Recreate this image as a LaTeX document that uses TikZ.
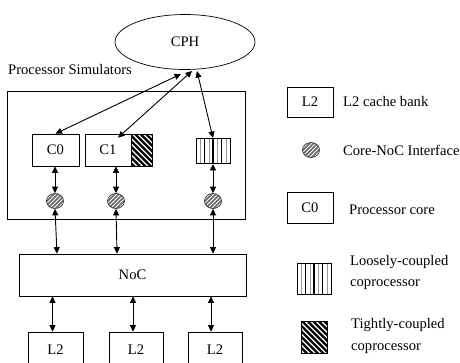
\documentclass[tikz,border=0pt]{standalone}
\usepackage{fontspec}
\setmainfont{Liberation Serif}
\usetikzlibrary{arrows.meta,shapes.geometric,calc}
\begin{document}
\begin{tikzpicture}[x=1pt,y=-1pt,
  font=\fontsize{14.6}{17}\selectfont,
  box/.style={draw,line width=0.7pt,inner sep=0pt},
  dbl/.style={{Triangle[length=6.5pt,width=6pt]}-{Triangle[length=6.5pt,width=6pt]},line width=0.9pt},
  lbl/.style={anchor=west,inner sep=0pt,align=left},
  iface/.style={ellipse,draw=black!80,line width=0.7pt,minimum width=17pt,minimum height=15pt,inner sep=0pt,
    path picture={\foreach \k in {-24,-20,...,24}{\draw[black!60,line width=1.7pt] ($(path picture bounding box.center)+(\k-12,12)$) -- ++(24,-24);}}},
  tight/.style={box,fill=white,
    path picture={\foreach \k in {-40,-34.5,...,40}{\draw[black,line width=2.2pt] ($(path picture bounding box.center)+(\k-20,-20)$) -- ++(40,40);}}},
  loose/.style={box,line width=0.9pt,fill=white,
    path picture={\foreach \k in {0,8.5,17,25.5}{\draw[black,line width=1.2pt] ($(path picture bounding box.west)+(\k,-20)$) -- ++(0,40);
      \draw[black!40,line width=0.8pt] ($(path picture bounding box.west)+(\k+4.5,-20)$) -- ++(0,40);}}}
]
\useasboundingbox (0,0) rectangle (460,362);
\clip (0,0) rectangle (460,362);
\fill[white] (0,0) rectangle (460,362);

% CPH
\node[ellipse,draw,line width=0.7pt,minimum width=140pt,minimum height=55pt,inner sep=0pt] (cph) at (185,42) {CPH};
\node[lbl] (ps) at (8,70) {Processor Simulators};

% simulator box
\node[box,minimum width=238pt,minimum height=128pt] (sim) at (126,155) {};

% cores
\node[box,minimum width=47pt,minimum height=32pt] (c0) at (55.5,150) {C0};
\node[box,minimum width=46pt,minimum height=32pt] (c1) at (108,150) {C1};
\node[tight,minimum width=21pt,minimum height=32pt] (tc) at (141.5,150) {};
\node[loose,minimum width=34pt,minimum height=25pt] (lc) at (213,151) {};

% interfaces
\node[iface] (i1) at (55,201) {};
\node[iface] (i2) at (116,201) {};
\node[iface] (i3) at (213,201) {};

% NoC
\node[box,minimum width=227pt,minimum height=42pt] (noc) at (132.5,275) {NoC};

% L2 banks
\node[box,minimum width=55pt,minimum height=36pt] (l2a) at (55.5,350) {L2};
\node[box,minimum width=54pt,minimum height=36pt] (l2b) at (136,350) {L2};
\node[box,minimum width=54pt,minimum height=36pt] (l2c) at (215,350) {L2};

% CPH connections
\coordinate (p1) at (181,74);
\coordinate (p2) at (192,71);
\coordinate (p3) at (197,71);
\draw[dbl] (c0.north) -- (p1);
\draw[dbl] ([xshift=10pt,yshift=-4pt]c1.north) -- (p2);
\draw[dbl] (p3) -- (lc.north);

% cores to interfaces
\draw[dbl] (c0.south -| i1) -- (i1.north);
\draw[dbl] (c1.south -| i2) -- (i2.north);
\draw[dbl] (lc.south -| i3) -- (i3.north);

% interfaces to NoC
\draw[dbl] (i1.south) -- ([xshift=2pt]i1.south |- noc.north);
\draw[dbl] (i2.south) -- ([xshift=1pt]i2.south |- noc.north);
\draw[dbl] (i3.south) -- (i3.south |- noc.north);

% NoC to L2
\draw[dbl] ([xshift=-3pt]l2a.north |- noc.south) -- ([xshift=-3pt]l2a.north);
\draw[dbl] ([xshift=-3pt]l2b.north |- noc.south) -- ([xshift=-3pt]l2b.north);
\draw[dbl] ([xshift=-4pt]l2c.north |- noc.south) -- ([xshift=-4pt]l2c.north);

% legend
\node[box,minimum width=46pt,minimum height=30pt] (lg1) at (310,102) {L2};
\node[lbl] (lt1) at (343,102) {L2 cache bank};
\node[iface] (lg2) at (311,150) {};
\node[lbl] (lt2) at (343,150) {Core-NoC Interface};
\node[box,minimum width=46pt,minimum height=31pt] (lg3) at (310,207.5) {C0};
\node[lbl] (lt3) at (349,210) {Processor core};
\node[loose,minimum width=34pt,minimum height=31pt] (lg4) at (314,278.5) {};
\node[lbl] (lt4) at (350,262) {Loosely-coupled};
\node[lbl] (lt4b) at (350,285) {coprocessor};
\node[tight,minimum width=26pt,minimum height=32pt] (lg5) at (314,337) {};
\node[lbl] (lt5) at (351,325) {Tightly-coupled};
\node[lbl] (lt5b) at (351,349) {coprocessor};
\end{tikzpicture}
\end{document}
